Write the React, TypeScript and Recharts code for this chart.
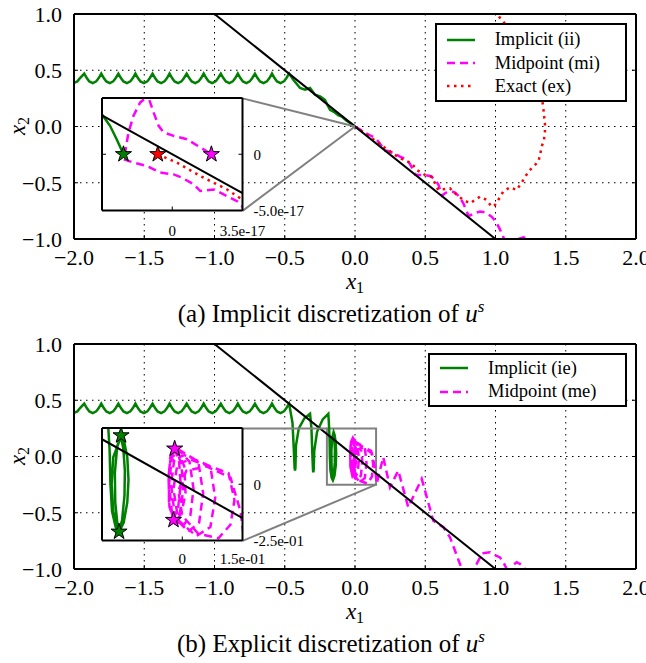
import React from 'react';
import {
  ComposedChart,
  Line,
  Scatter,
  XAxis,
  YAxis,
  ZAxis,
  CartesianGrid,
  ReferenceLine,
  ReferenceArea,
} from 'recharts';

type Pt = [number, number];
const toXY = (a: Pt[]) => a.map(([x, y]) => ({ x, y }));

// ---- main axes ----
const X_DOMAIN: Pt = [-2, 2];
const Y_DOMAIN: Pt = [-1, 1];
const X_TICKS = [-2, -1.5, -1, -0.5, 0, 0.5, 1, 1.5, 2];
const Y_TICKS = [-1, -0.5, 0, 0.5, 1];

// ---- series shared by both panels ----
const DIAGONAL: Pt[] = [[-1, 1], [1, -1]];

const WAVE: Pt[] = [
  [-2.0, 0.388], [-1.976, 0.401], [-1.957, 0.431],
  [-1.927, 0.47], [-1.909, 0.431], [-1.891, 0.401], [-1.866, 0.386], [-1.842, 0.401], [-1.824, 0.431],
  [-1.806, 0.47], [-1.788, 0.431], [-1.77, 0.401], [-1.745, 0.386], [-1.721, 0.401], [-1.703, 0.431],
  [-1.684, 0.47], [-1.666, 0.431], [-1.648, 0.401], [-1.623, 0.386], [-1.599, 0.401], [-1.581, 0.431],
  [-1.563, 0.47], [-1.545, 0.431], [-1.527, 0.401], [-1.502, 0.386], [-1.478, 0.401], [-1.46, 0.431],
  [-1.441, 0.47], [-1.423, 0.431], [-1.405, 0.401], [-1.38, 0.386], [-1.356, 0.401], [-1.338, 0.431],
  [-1.32, 0.47], [-1.302, 0.431], [-1.284, 0.401], [-1.259, 0.386], [-1.235, 0.401], [-1.217, 0.431],
  [-1.198, 0.47], [-1.18, 0.431], [-1.162, 0.401], [-1.137, 0.386], [-1.113, 0.401], [-1.095, 0.431],
  [-1.077, 0.47], [-1.059, 0.431], [-1.041, 0.401], [-1.016, 0.386], [-0.992, 0.401], [-0.974, 0.431],
  [-0.955, 0.47], [-0.937, 0.431], [-0.919, 0.401], [-0.894, 0.386], [-0.87, 0.401], [-0.852, 0.431],
  [-0.834, 0.47], [-0.816, 0.431], [-0.798, 0.401], [-0.773, 0.386], [-0.749, 0.401], [-0.731, 0.431],
  [-0.712, 0.47], [-0.694, 0.431], [-0.676, 0.401], [-0.651, 0.386], [-0.627, 0.401], [-0.609, 0.431],
  [-0.591, 0.47], [-0.573, 0.431], [-0.555, 0.401], [-0.53, 0.386], [-0.506, 0.401], [-0.488, 0.431],
  [-0.469, 0.47],
];

// ---- panel (a): implicit discretization ----
const IMPLICIT_II_TAIL: Pt[] = [
  [-0.439, 0.416], [-0.391, 0.342], [-0.356, 0.327], [-0.32, 0.342], [-0.285, 0.283],
  [-0.249, 0.267], [-0.214, 0.237], [-0.178, 0.149], [-0.15, 0.13], [-0.12, 0.1],
  [-0.09, 0.085], [-0.06, 0.052], [-0.03, 0.028], [0, 0],
];

const MIDPOINT_MI: Pt[] = [
  [0, 0], [0.04, -0.03], [0.08, -0.06], [0.11, -0.08], [0.14, -0.1], [0.17, -0.14], [0.2, -0.19],
  [0.214, -0.214], [0.24, -0.22], [0.28, -0.24], [0.32, -0.267], [0.36, -0.29], [0.39, -0.33],
  [0.415, -0.39], [0.427, -0.427], [0.45, -0.43], [0.49, -0.43], [0.534, -0.44], [0.57, -0.47],
  [0.595, -0.52], [0.61, -0.58], [0.62, -0.615], [0.645, -0.59], [0.676, -0.578], [0.71, -0.585],
  [0.74, -0.62], [0.77, -0.68], [0.79, -0.74], [0.807, -0.79], [0.82, -0.79], [0.85, -0.77],
  [0.89, -0.755], [0.93, -0.765], [0.97, -0.8], [1.0, -0.84], [1.03, -0.91], [1.055, -0.98],
  [1.075, -1.05], [1.1, -1.08], [1.16, -1.0], [1.2, -0.985], [1.24, -1.0], [1.28, -1.06],
];

const EXACT_EX: Pt[] = [
  [0, 0], [0.07, -0.06], [0.154, -0.134], [0.201, -0.178], [0.285, -0.252], [0.344, -0.297],
  [0.403, -0.326], [0.439, -0.386], [0.498, -0.43], [0.546, -0.446], [0.593, -0.564],
  [0.676, -0.549], [0.712, -0.594], [0.771, -0.653], [0.819, -0.683], [0.854, -0.653],
  [0.89, -0.624], [0.937, -0.653], [0.973, -0.713], [0.996, -0.698], [1.027, -0.638],
  [1.055, -0.579], [1.103, -0.54], [1.151, -0.564], [1.174, -0.52], [1.198, -0.475],
  [1.234, -0.401], [1.269, -0.357], [1.305, -0.312], [1.317, -0.252], [1.329, -0.178],
  [1.345, -0.119], [1.352, -0.045], [1.352, 0.03], [1.345, 0.104], [1.34, 0.173], [1.33, 0.25],
  [1.3, 0.42], [1.25, 0.6], [1.18, 0.75], [1.1, 0.87], [1.044, 0.945], [1.0, 1.02], [0.97, 1.08],
];

// inset (a), around the origin
const INSET_A_X: Pt = [-3.5e-17, 3.5e-17];
const INSET_A_Y: Pt = [-5e-17, 5e-17];
const INSET_A_X_TICKS = [0, 3.5e-17];
const INSET_A_Y_TICKS = [-5e-17, 0];
const INSET_A_DIAGONAL: Pt[] = [[-3.5e-17, 3.45e-17], [3.5e-17, -3.45e-17]];
const INSET_A_IMPLICIT: Pt[] = [
  [-3.55e-17, 3.7e-17], [-3.52e-17, 3.57e-17], [-3.1e-17, 2.53e-17], [-2.77e-17, 1.34e-17], [-2.43e-17, 0],
];
const INSET_A_MIDPOINT: Pt[] = [
  [3.6e-17, -5.2e-17], [3.48e-17, -4.61e-17], [3.23e-17, -4.17e-17], [2.73e-17, -3.72e-17],
  [2.07e-17, -3.13e-17], [1.4e-17, -3.27e-17], [1.07e-17, -2.68e-17], [0.48e-17, -2.08e-17],
  [0.07e-17, -1.79e-17], [-0.6e-17, -1.63e-17], [-1.27e-17, -1.04e-17], [-1.93e-17, -0.74e-17],
  [-2.43e-17, -0.45e-17], [-2.35e-17, 0.15e-17], [-2.18e-17, 1.94e-17], [-1.93e-17, 3.42e-17],
  [-1.6e-17, 4.6e-17], [-1.32e-17, 5.03e-17], [-1.25e-17, 5.6e-17], [-1.18e-17, 5.03e-17],
  [-0.93e-17, 3.72e-17], [-0.68e-17, 2.53e-17], [-0.43e-17, 1.94e-17], [0.07e-17, 1.63e-17],
  [0.73e-17, 1.34e-17], [1.4e-17, 0.6e-17], [1.95e-17, 0],
];
const INSET_A_EXACT: Pt[] = [
  [-0.72e-17, 0], [0.23e-17, -0.74e-17], [1.4e-17, -1.94e-17], [2.73e-17, -3.13e-17],
  [3.48e-17, -4.02e-17], [3.7e-17, -4.3e-17],
];
const STAR_A_IMPLICIT: Pt[] = [[-2.43e-17, 0]];
const STAR_A_EXACT: Pt[] = [[-0.72e-17, 0]];
const STAR_A_MIDPOINT: Pt[] = [[1.95e-17, 0]];

// ---- panel (b): explicit discretization ----
const IMPLICIT_IE_TAIL: Pt[] = [
  [-0.445, 0.3], [-0.435, 0.05], [-0.43, -0.1], [-0.427, -0.125], [-0.424, -0.1], [-0.42, 0.1],
  [-0.4, 0.25], [-0.36, 0.34], [-0.32, 0.38], [-0.31, 0.25], [-0.303, 0.0], [-0.299, -0.12],
  [-0.297, -0.14], [-0.294, -0.12], [-0.29, 0.05], [-0.27, 0.22], [-0.23, 0.33], [-0.19, 0.38],
  [-0.186, 0.3], [-0.181, 0.15], [-0.179, 0.0], [-0.175, -0.12], [-0.166, -0.19], [-0.1575, -0.211],
  [-0.146, -0.17], [-0.137, -0.08], [-0.134, 0.02], [-0.137, 0.12], [-0.145, 0.19], [-0.1525, 0.217],
  [-0.162, 0.17], [-0.168, 0.05], [-0.167, -0.08], [-0.162, -0.17], [-0.1575, -0.205], [-0.15, -0.16],
  [-0.144, -0.05], [-0.143, 0.06], [-0.147, 0.16], [-0.153, 0.21], [-0.172, 0.12], [-0.176, 0.0],
  [-0.172, -0.12], [-0.158, -0.211],
];

const MIDPOINT_ME: Pt[] = [
  [-0.019, 0.158], [-0.008, 0.1], [-0.004, 0.0], [-0.01, -0.1], [-0.022, -0.159], [-0.033, -0.08],
  [-0.034, 0.04], [-0.028, 0.13], [-0.017, 0.16], [-0.002, 0.09], [0.002, -0.03], [-0.006, -0.13],
  [-0.02, -0.165], [-0.032, -0.1], [-0.034, 0.02], [-0.03, 0.12], [-0.015, 0.16], [0.005, 0.08],
  [0.008, -0.04], [-0.002, -0.13], [-0.018, -0.17], [-0.032, -0.1], [-0.034, 0.02], [-0.03, 0.12],
  [-0.012, 0.16], [0.018, 0.1], [0.028, -0.02], [0.02, -0.14], [0.0, -0.19], [-0.025, -0.14],
  [-0.033, 0.0], [-0.026, 0.12], [-0.005, 0.15], [0.04, 0.1], [0.052, -0.04], [0.042, -0.17],
  [0.015, -0.21], [-0.018, -0.15], [-0.028, 0.0], [-0.02, 0.11], [0.005, 0.13], [0.07, 0.08],
  [0.082, -0.06], [0.07, -0.19], [0.035, -0.23], [-0.01, -0.16], [-0.022, -0.02], [-0.012, 0.09],
  [0.02, 0.11], [0.115, 0.05], [0.13, -0.07], [0.12, -0.18], [0.09, -0.24], [0.04, -0.22],
  [0.0, -0.14], [-0.01, -0.03], [0.01, 0.06], [0.06, 0.08], [0.12, 0.03], [0.145, -0.12],
  [0.154, -0.243], [0.201, -0.006], [0.249, -0.273], [0.308, -0.125], [0.379, -0.451],
  [0.475, -0.199], [0.557, -0.57], [0.629, -0.629], [0.676, -0.718], [0.747, -0.955], [0.78, -1.08],
  [0.82, -1.05], [0.866, -0.955], [0.905, -0.86], [0.961, -0.852], [1.0, -0.88], [1.032, -0.897],
  [1.06, -0.95], [1.08, -1.0], [1.1, -1.06], [1.13, -0.96], [1.151, -0.94], [1.18, -0.96],
  [1.21, -1.0], [1.23, -1.05],
];

const INSET_B_X: Pt = [-0.2, 0.15];
const INSET_B_Y: Pt = [-0.25, 0.25];
const INSET_B_X_TICKS = [0, 0.15];
const INSET_B_Y_TICKS = [-0.25, 0];
const STAR_B_IMPLICIT: Pt[] = [[-0.1525, 0.217], [-0.1575, -0.211]];
const STAR_B_MIDPOINT: Pt[] = [[-0.019, 0.158], [-0.022, -0.159]];

// ---- layout ----
const FONT = '"Liberation Serif", "Times New Roman", serif';
const GREEN = '#008000';
const MAGENTA = '#ff00ff';
const RED = '#ff0000';
const GRAY = '#808080';
const DASH = '8 5';
const DOT = '2.5 4.5';

const CHART_W = 646;
const CHART_H = 300;
const PLOT_LEFT = 74;
const PLOT_TOP = 14;
const PLOT_W = 562;
const PLOT_H = 225;
const INSET_BOX_X: Pt = [-1.8, -0.8];
const INSET_BOX_Y: Pt = [-0.75, 0.25];

const toPxX = (x: number) => PLOT_LEFT + ((x - X_DOMAIN[0]) / (X_DOMAIN[1] - X_DOMAIN[0])) * PLOT_W;
const toPxY = (y: number) => PLOT_TOP + ((Y_DOMAIN[1] - y) / (Y_DOMAIN[1] - Y_DOMAIN[0])) * PLOT_H;
const INSET_LEFT = toPxX(INSET_BOX_X[0]);
const INSET_TOP = toPxY(INSET_BOX_Y[1]);
const INSET_W = toPxX(INSET_BOX_X[1]) - INSET_LEFT;
const INSET_H = toPxY(INSET_BOX_Y[0]) - INSET_TOP;

const fmtMain = (v: number) => v.toFixed(1).replace('-', '\u2212');
const fmtSci = (v: number) =>
  v === 0 ? '0' : v.toExponential(1).replace('e+', 'e').replace(/e(-?)(\d)$/, 'e$10$2');
const blank = () => '';

const frame = { stroke: '#000', strokeWidth: 2 };
const tickMark = { stroke: '#000', strokeWidth: 1 };
const mainTick = { fontFamily: FONT, fontSize: 22, fill: '#000' };
const insetTick = { fontFamily: FONT, fontSize: 15, fill: '#000' };

// the top / right axes are 1px thick: they only draw the frame side and inward ticks
function mainAxes() {
  return [
    <XAxis key="xb" dataKey="x" type="number" domain={X_DOMAIN} ticks={X_TICKS} interval={0}
      allowDataOverflow height={30} tick={mainTick} tickFormatter={fmtMain}
      tickSize={-4} tickMargin={14} axisLine={frame} tickLine={tickMark} />,
    <XAxis key="xt" xAxisId="top" orientation="top" type="number" domain={X_DOMAIN} ticks={X_TICKS}
      interval={0} allowDataOverflow height={1} tickFormatter={blank}
      tickSize={-4} axisLine={frame} tickLine={tickMark} />,
    <YAxis key="yl" type="number" domain={Y_DOMAIN} ticks={Y_TICKS} interval={0}
      allowDataOverflow width={PLOT_LEFT} tick={mainTick} tickFormatter={fmtMain}
      tickSize={-4} tickMargin={16} axisLine={frame} tickLine={tickMark} />,
    <YAxis key="yr" yAxisId="right" orientation="right" type="number" domain={Y_DOMAIN}
      ticks={Y_TICKS} interval={0} allowDataOverflow width={1} tickFormatter={blank}
      tickSize={-4} axisLine={frame} tickLine={tickMark} />,
    <CartesianGrid key="grid" stroke="#000" strokeWidth={1} strokeDasharray="1.5 4.5" />,
  ];
}

function insetAxes(xd: Pt, yd: Pt, xt: number[], yt: number[], xMargin: number) {
  return [
    <XAxis key="xb" dataKey="x" type="number" domain={xd} ticks={xt} interval={0}
      allowDataOverflow height={30} tick={insetTick} tickFormatter={fmtSci}
      tickSize={-4} tickMargin={xMargin} axisLine={frame} tickLine={tickMark} />,
    <XAxis key="xt" xAxisId="top" orientation="top" type="number" domain={xd} ticks={xt}
      interval={0} allowDataOverflow height={1} tickFormatter={blank}
      tickSize={-4} axisLine={frame} tickLine={tickMark} />,
    <YAxis key="yr" orientation="right" type="number" domain={yd} ticks={yt} interval={0}
      allowDataOverflow width={80} tick={insetTick} tickFormatter={fmtSci}
      tickSize={-4} tickMargin={15} axisLine={frame} tickLine={tickMark} />,
    <YAxis key="yl" yAxisId="left" orientation="left" type="number" domain={yd} ticks={yt}
      interval={0} allowDataOverflow width={1} tickFormatter={blank}
      tickSize={-4} axisLine={frame} tickLine={tickMark} />,
    <ZAxis key="z" range={[80, 80]} />,
  ];
}

function series(name: string, data: Pt[], color: string, dash?: string, width = 2.5) {
  return (
    <Line key={name} name={name} data={toXY(data)} dataKey="y" type="linear" stroke={color}
      strokeWidth={width} strokeDasharray={dash} dot={false} isAnimationActive={false} />
  );
}

function stars(name: string, data: Pt[], color: string) {
  return (
    <Scatter key={name} name={name} data={toXY(data)} dataKey="y" shape="star" fill={color}
      stroke="#000" strokeWidth={1} isAnimationActive={false} />
  );
}

type LegendItem = { label: string; color: string; dash?: string };

const LEGEND_A: LegendItem[] = [
  { label: 'Implicit (ii)', color: GREEN },
  { label: 'Midpoint (mi)', color: MAGENTA, dash: DASH },
  { label: 'Exact (ex)', color: RED, dash: DOT },
];
const LEGEND_B: LegendItem[] = [
  { label: 'Implicit (ie)', color: GREEN },
  { label: 'Midpoint (me)', color: MAGENTA, dash: DASH },
];

const LegendBox: React.FC<{ left: number; top: number; width: number; items: LegendItem[]; padTop: number; padLeft: number }> = ({ left, top, width, items, padTop, padLeft }) => (
  <div style={{
    position: 'absolute', left, top, width, boxSizing: 'border-box', border: '2px solid #000',
    background: '#fff', paddingTop: padTop, paddingBottom: 2, paddingLeft: padLeft,
    fontFamily: FONT, fontSize: 18.5, color: '#000',
  }}>
    {items.map((it) => (
      <div key={it.label} style={{ display: 'flex', alignItems: 'center', height: 23.4 }}>
        <svg width={28} height={10} style={{ flex: 'none' }}>
          <line x1={0} y1={5} x2={28} y2={5} stroke={it.color} strokeWidth={2.5} strokeDasharray={it.dash} />
        </svg>
        <span style={{ marginLeft: 20, whiteSpace: 'nowrap' }}>{it.label}</span>
      </div>
    ))}
  </div>
);

const PanelText: React.FC<{ letter: string; title: string }> = ({ letter, title }) => (
  <svg width={CHART_W} height={335} style={{ position: 'absolute', left: 0, top: 0, pointerEvents: 'none' }}>
    <text x={355} y={289} textAnchor="middle" fontFamily={FONT} fontSize={23}>
      <tspan fontStyle="italic">x</tspan>
      <tspan fontSize={16} dy={4}>1</tspan>
    </text>
    <text transform="translate(25,126) rotate(-90)" textAnchor="middle" fontFamily={FONT} fontSize={23}>
      <tspan fontStyle="italic">x</tspan>
      <tspan fontSize={16} dy={4}>2</tspan>
    </text>
    <text x={331} y={322} textAnchor="middle" fontFamily={FONT} fontSize={25}>
      {`(${letter}) ${title} `}
      <tspan fontStyle="italic">u</tspan>
      <tspan fontStyle="italic" fontSize={17} dy={-10}>s</tspan>
    </text>
  </svg>
);

// inset plot area starts 1px in (the 1px top/left frame axes)
const Inset: React.FC<{ children: React.ReactNode }> = ({ children }) => (
  <div style={{ position: 'absolute', left: INSET_LEFT, top: INSET_TOP }}>
    <div style={{ position: 'absolute', left: 0, top: 0, width: INSET_W, height: INSET_H, background: '#fff' }} />
    <div style={{ position: 'absolute', left: -1, top: -1 }}>{children}</div>
  </div>
);

const chartMargin = {
  top: PLOT_TOP - 1,
  right: CHART_W - PLOT_LEFT - PLOT_W - 1,
  bottom: CHART_H - PLOT_TOP - PLOT_H - 30,
  left: 0,
};
const insetMargin = { top: 0, right: 0, bottom: 0, left: 0 };
const INSET_CHART_W = INSET_W + 81;
const INSET_CHART_H = INSET_H + 31;

export default function App() {
  const implicitII = [...WAVE, ...IMPLICIT_II_TAIL];
  const implicitIE = [...WAVE, ...IMPLICIT_IE_TAIL];
  return (
    <div style={{ position: 'absolute', left: 0, top: 0, width: CHART_W, height: 663, background: '#fff', fontFamily: FONT }}>
      {/* (a) */}
      <div style={{ position: 'absolute', left: 0, top: 0, width: CHART_W, height: 330 }}>
        <ComposedChart width={CHART_W} height={CHART_H} margin={chartMargin}>
          {mainAxes()}
          {series('ii', implicitII, GREEN)}
          {series('mi', MIDPOINT_MI, MAGENTA, DASH)}
          {series('ex', EXACT_EX, RED, DOT)}
          {series('diag', DIAGONAL, '#000', undefined, 2)}
          <ReferenceLine segment={[{ x: INSET_BOX_X[1], y: INSET_BOX_Y[1] }, { x: 0, y: 0 }]} stroke={GRAY} strokeWidth={2} />
          <ReferenceLine segment={[{ x: INSET_BOX_X[1], y: INSET_BOX_Y[0] }, { x: 0, y: 0 }]} stroke={GRAY} strokeWidth={2} />
        </ComposedChart>
        <Inset>
          <ComposedChart width={INSET_CHART_W} height={INSET_CHART_H} margin={insetMargin}>
            {insetAxes(INSET_A_X, INSET_A_Y, INSET_A_X_TICKS, INSET_A_Y_TICKS, 19)}
            {series('ii', INSET_A_IMPLICIT, GREEN)}
            {series('mi', INSET_A_MIDPOINT, MAGENTA, DASH)}
            {series('ex', INSET_A_EXACT, RED, DOT)}
            {series('diag', INSET_A_DIAGONAL, '#000', undefined, 2)}
            {stars('s-ii', STAR_A_IMPLICIT, GREEN)}
            {stars('s-ex', STAR_A_EXACT, RED)}
            {stars('s-mi', STAR_A_MIDPOINT, MAGENTA)}
          </ComposedChart>
        </Inset>
        <LegendBox left={435} top={23} width={192} items={LEGEND_A} padTop={3} padLeft={9.7} />
        <PanelText letter="a" title="Implicit discretization of" />
      </div>
      {/* (b) */}
      <div style={{ position: 'absolute', left: 0, top: 330, width: CHART_W, height: 333 }}>
        <ComposedChart width={CHART_W} height={CHART_H} margin={chartMargin}>
          {mainAxes()}
          {series('ie', implicitIE, GREEN)}
          {series('me', MIDPOINT_ME, MAGENTA, DASH)}
          {series('diag', DIAGONAL, '#000', undefined, 2)}
          <ReferenceArea x1={INSET_B_X[0]} x2={INSET_B_X[1]} y1={INSET_B_Y[0]} y2={INSET_B_Y[1]}
            fill="none" stroke={GRAY} strokeWidth={2} />
          <ReferenceLine segment={[{ x: INSET_BOX_X[1], y: INSET_BOX_Y[1] }, { x: INSET_B_X[0], y: INSET_B_Y[1] }]} stroke={GRAY} strokeWidth={2} />
          <ReferenceLine segment={[{ x: INSET_BOX_X[1], y: INSET_BOX_Y[0] }, { x: INSET_B_X[1], y: INSET_B_Y[0] }]} stroke={GRAY} strokeWidth={2} />
        </ComposedChart>
        <Inset>
          <ComposedChart width={INSET_CHART_W} height={INSET_CHART_H} margin={insetMargin}>
            {insetAxes(INSET_B_X, INSET_B_Y, INSET_B_X_TICKS, INSET_B_Y_TICKS, 17)}
            {series('ie', implicitIE, GREEN)}
            {series('me', MIDPOINT_ME, MAGENTA, DASH)}
            {series('diag', DIAGONAL, '#000', undefined, 2)}
            {stars('s-ie', STAR_B_IMPLICIT, GREEN)}
            {stars('s-me', STAR_B_MIDPOINT, MAGENTA)}
          </ComposedChart>
        </Inset>
        <LegendBox left={428} top={23} width={199} items={LEGEND_B} padTop={1.6} padLeft={10} />
        <PanelText letter="b" title="Explicit discretization of" />
      </div>
    </div>
  );
}
